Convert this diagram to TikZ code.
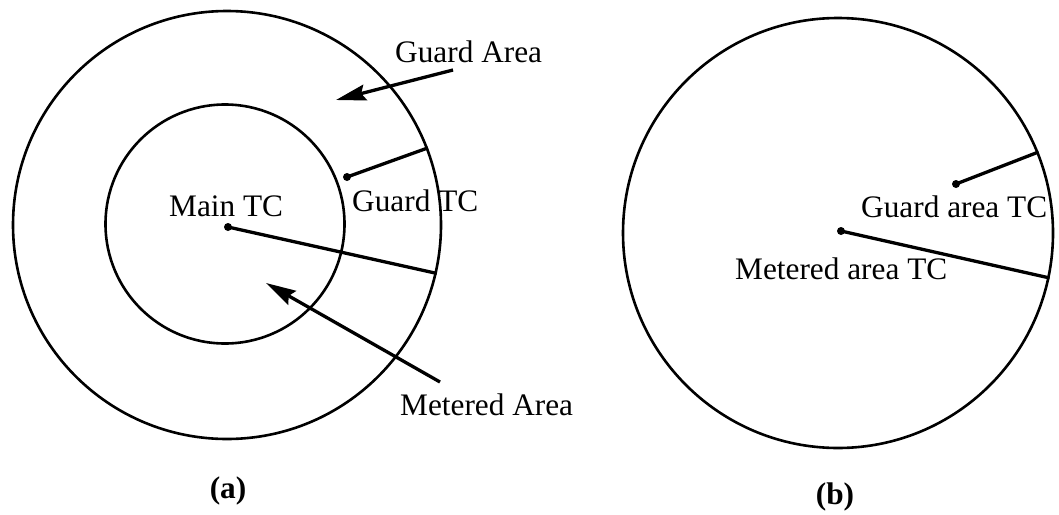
\documentclass[tikz,border=0pt]{standalone}
\usepackage{fontspec}
\setmainfont{Liberation Serif}
\usetikzlibrary{arrows.meta}
\begin{document}
\begin{tikzpicture}[x=1pt,y=-1pt,
  ring/.style={draw, circle, line width=2.6pt, inner sep=0pt},
  probe/.style={line width=3.3pt},
  pointer/.style={line width=3.3pt, -{Stealth[length=30pt,width=16pt,inset=4pt]}},
  tc/.style={circle, fill, inner sep=0pt, minimum size=8pt},
  lbl/.style={inner sep=0pt, font=\fontsize{31.3}{36}\selectfont},
  caption/.style={inner sep=0pt, font=\fontsize{31.3}{36}\selectfont\bfseries}]
\useasboundingbox (0,0) rectangle (1059,514);

% (a) metered area inside a guard ring
\node[ring, minimum size=428pt] (outerA) at (227,225) {};
\node[ring, minimum size=239pt] (innerA) at (225,224) {};

\node[tc] (mainTC) at (228,227) {};
\draw[probe] (mainTC.center) -- (outerA.-13.6);
\node[lbl, anchor=base west] (mainLbl) at (169,216) {Main TC};

\node[tc] (guardTC) at (347,177) {};
\draw[probe] (guardTC.center) -- (outerA.21);
\node[lbl, anchor=base west] (guardLbl) at (352,211) {Guard TC};

\node[lbl, anchor=base west] (guardArea) at (395,62) {Guard Area};
\coordinate (gaTail) at (453,70);
\coordinate (gaTip) at (336,100);
\draw[pointer] (gaTail) -- (gaTip);

\node[lbl, anchor=base west] (meteredArea) at (400,415) {Metered Area};
\coordinate (maTail) at (440,382);
\coordinate (maTip) at (266,283);
\draw[pointer] (maTail) -- (maTip);

\node[caption] (capA) at (228,491) {(a)};

% (b) single area with two thermocouples
\node[ring, minimum size=430pt] (circB) at (838,233) {};

\node[tc] (meterTC) at (841,231) {};
\draw[probe] (meterTC.center) -- (circB.-12.2);
\node[lbl, anchor=base west] (meterLbl) at (735,279) {Metered area TC};

\node[tc] (guardBTC) at (956,184) {};
\draw[probe] (guardBTC.center) -- (circB.22.1);
\node[lbl, anchor=base west] (guardBLbl) at (861,217) {Guard area TC};

\node[caption] (capB) at (835,497) {(b)};
\end{tikzpicture}
\end{document}
